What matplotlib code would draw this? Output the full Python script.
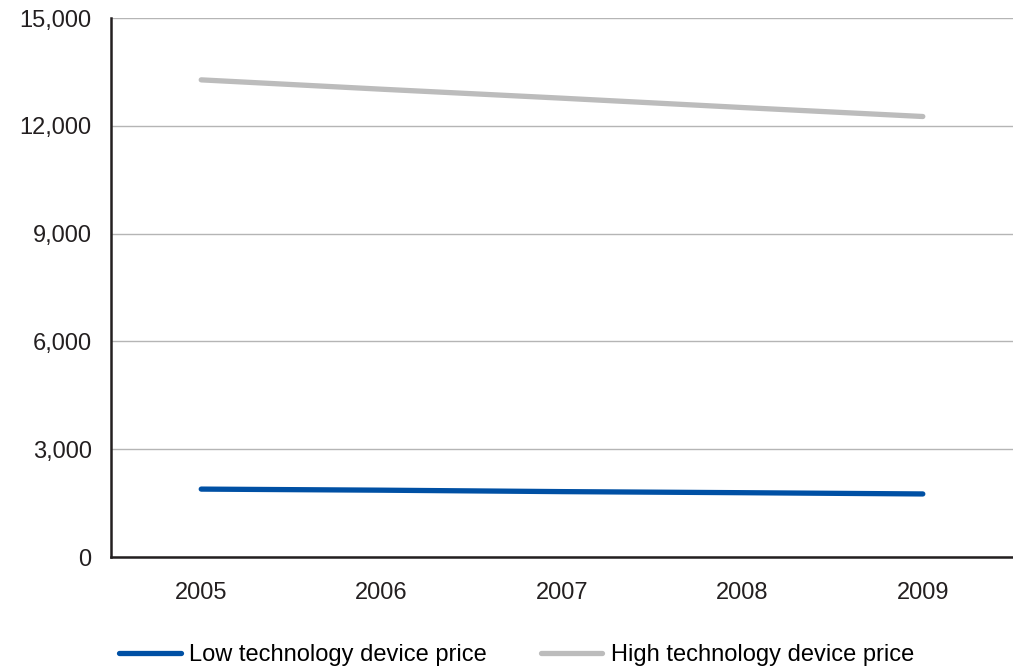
import matplotlib.pyplot as plt
from matplotlib.ticker import FuncFormatter

plt.rcParams['font.family'] = ['Liberation Sans', 'DejaVu Sans']

# Data
years = ["2005", "2006", "2007", "2008", "2009"]
low_tech = [1890, 1860, 1820, 1790, 1755]
high_tech = [13280, 13020, 12770, 12510, 12260]

fig = plt.figure(figsize=(10.13, 6.69), dpi=100)
ax = fig.add_axes([0.1096, 0.1674, 0.8904, 0.8056])

x = range(len(years))
ax.plot(x, low_tech, color="#0050a4", linewidth=3.8, solid_capstyle="round",
        label="Low technology device price")
ax.plot(x, high_tech, color="#bcbcbc", linewidth=3.8, solid_capstyle="round",
        label="High technology device price")

ax.set_xlim(-0.5, 4.5)
ax.set_ylim(0, 15000)
ax.set_xticks(list(x))
ax.set_xticklabels(years)
ax.set_yticks(range(0, 15001, 3000))
ax.yaxis.set_major_formatter(FuncFormatter(lambda v, p: f"{int(v):,}"))

ax.grid(axis="y", color="#b5b5b5", linewidth=1.0)
ax.set_axisbelow(True)
for s in ["top", "right"]:
    ax.spines[s].set_visible(False)
for s in ["left", "bottom"]:
    ax.spines[s].set_color("#231f20")
    ax.spines[s].set_linewidth(1.8)
ax.tick_params(axis="both", length=0, labelsize=17, colors="#231f20")
ax.tick_params(axis="y", pad=14)
ax.tick_params(axis="x", pad=18)

fig.legend(loc="lower center", bbox_to_anchor=(0.51, -0.028), ncol=2, frameon=False,
           fontsize=17, handlelength=2.6, handletextpad=0.35, columnspacing=2.3)

fig.savefig("out.png", dpi=100)
